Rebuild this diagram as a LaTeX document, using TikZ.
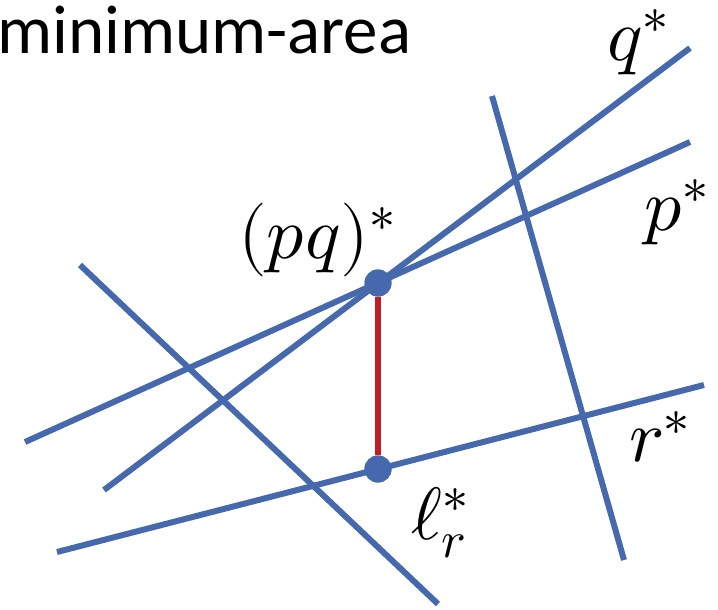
\documentclass[tikz,border=0pt]{standalone}
\usepackage{fontspec}
\setmainfont{Carlito}
\usepackage{unicode-math}
\setmathfont{Latin Modern Math}
\definecolor{lineblue}{RGB}{70,104,172}
\definecolor{segred}{RGB}{190,30,36}
\begin{document}
\begin{tikzpicture}[x=1pt,y=-1pt,
  dual/.style={draw=lineblue,line width=6pt},
  seg/.style={draw=segred,line width=6pt},
  dot/.style={circle,fill=lineblue,inner sep=0pt,minimum size=27pt},
  lab/.style={inner sep=0pt,font=\fontsize{74}{88}\selectfont},
  ttl/.style={inner sep=0pt,font=\fontsize{69}{82}\selectfont}]
\useasboundingbox (0,0) rectangle (718,610);
% line end points
\coordinate (q1) at (104,490); \coordinate (q2) at (690,48);
\coordinate (p1) at (25,442);  \coordinate (p2) at (690,142);
\coordinate (r1) at (57,552);  \coordinate (r2) at (704,385);
\coordinate (a1) at (80,265);  \coordinate (a2) at (438,604);
\coordinate (b1) at (492,96);  \coordinate (b2) at (624,560);
\draw[dual] (q1) -- (q2);
\draw[dual] (p1) -- (p2);
\draw[dual] (r1) -- (r2);
\draw[dual] (a1) -- (a2);
\draw[dual] (b1) -- (b2);
\node[dot] (pq) at (378,283) {};
\node[dot] (lr) at (378,469) {};
\draw[seg] (pq) -- (lr);
\node[dot] at (pq) {};
\node[dot] at (lr) {};
% labels
\node[ttl,anchor=base west] (title) at (-3,54) {minimum-area};
\node[lab] (qlab) at (638,42) {$q^*$};
\node[lab] (plab) at (677,212) {$p^*$};
\node[lab] (pqlab) at (317,240) {$(pq)^*$};
\node[lab] (rlab) at (660,437) {$r^*$};
\node[lab] (llab) at (440,523) {$\ell_r^*$};
\end{tikzpicture}
\end{document}
